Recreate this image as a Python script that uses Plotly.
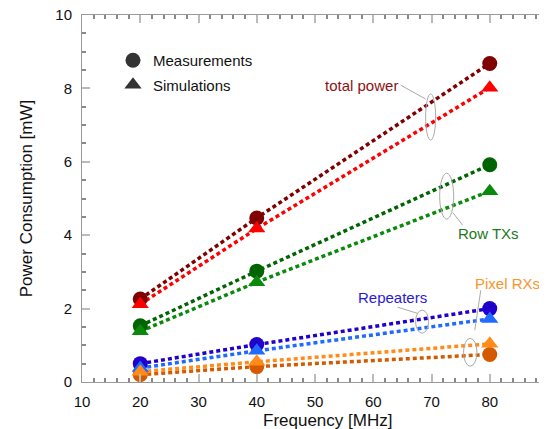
import plotly.graph_objects as go

freq = [20, 40, 80]

total_meas = [2.26, 4.47, 8.68]
total_sim = [2.12, 4.18, 8.02]
row_meas = [1.53, 3.02, 5.92]
row_sim = [1.38, 2.72, 5.20]
rep_meas = [0.50, 1.02, 2.00]
rep_sim = [0.38, 0.85, 1.72]
pix_meas = [0.20, 0.42, 0.75]
pix_sim = [0.28, 0.55, 1.04]

x_ticks = [10, 20, 30, 40, 50, 60, 70, 80, 90]
y_ticks = [0, 2, 4, 6, 8, 10]

FONT = "Liberation Sans, Arial, sans-serif"

meas_series = [
    (total_meas, "#800000"),
    (row_meas, "#006400"),
    (rep_meas, "#2200cc"),
    (pix_meas, "#d45a00"),
]
sim_series = [
    (total_sim, "#ff0000"),
    (row_sim, "#0a8a0a"),
    (rep_sim, "#1f6bff"),
    (pix_sim, "#ff8c1a"),
]

fig = go.Figure()

for vals, col in meas_series + sim_series:
    fig.add_trace(go.Scatter(x=freq, y=vals, mode="lines",
                             line=dict(color=col, width=3.5, dash="4px,3px"),
                             showlegend=False, hoverinfo="skip"))
for vals, col in meas_series:
    fig.add_trace(go.Scatter(x=freq, y=vals, mode="markers",
                             marker=dict(symbol="circle", size=15, color=col),
                             showlegend=False))
for vals, col in sim_series:
    fig.add_trace(go.Scatter(x=freq, y=vals, mode="markers",
                             marker=dict(symbol="triangle-up", size=15, color=col),
                             showlegend=False))

fig.add_trace(go.Scatter(x=[None], y=[None], mode="markers", name="Measurements",
                         legendgroup="a",
                         marker=dict(symbol="circle", size=15, color="#333333")))
fig.add_trace(go.Scatter(x=[None], y=[None], mode="markers", name="Simulations",
                         legendgroup="b",
                         marker=dict(symbol="triangle-up", size=15, color="#333333")))

labels = [
    ("total power", 64.6, 8.09, "#8b1111", "right"),
    ("Row TXs", 79.7, 4.06, "#1b7a1b", "center"),
    ("Repeaters", 63.3, 2.31, "#2a1ad8", "center"),
    ("Pixel RXs", 83.1, 2.69, "#f7962a", "center"),
]
annotations = []
for txt, xx, yy, col, xa in labels:
    annotations.append(dict(x=xx, y=yy, xref="x", yref="y", text=txt,
                            showarrow=False, xanchor=xa,
                            font=dict(family=FONT, size=15, color=col)))

annotations.append(dict(x=0.526, y=-0.074, xref="paper", yref="paper",
                        text="Frequency [MHz]", showarrow=False,
                        yanchor="top",
                        font=dict(family=FONT, size=17, color="#111111")))

ellipses = [
    (68.99, 70.71, 6.59, 7.85),
    (71.40, 73.81, 4.44, 5.69),
    (67.27, 69.50, 1.33, 1.96),
    (75.50, 77.80, 0.43, 1.19),
]
leaders = [
    (64.7, 8.09, 68.99, 7.71),
    (73.64, 4.62, 75.36, 4.27),
    (64.17, 2.04, 67.61, 1.87),
    (78.46, 2.50, 77.43, 1.41),
]
shapes = []
for x0, x1, y0, y1 in ellipses:
    shapes.append(dict(type="circle", xref="x", yref="y", x0=x0, x1=x1, y0=y0, y1=y1,
                       line=dict(color="#aaaaaa", width=1)))
for x0, y0, x1, y1 in leaders:
    shapes.append(dict(type="line", xref="x", yref="y", x0=x0, y0=y0, x1=x1, y1=y1,
                       line=dict(color="#aaaaaa", width=1)))

axis_common = dict(
    showgrid=False, zeroline=False, showline=True, linecolor="#999999", linewidth=1,
    mirror="allticks", ticks="inside", ticklen=8, tickcolor="#bbbbbb", tickwidth=1.5,
    ticklabeloverflow="allow", automargin=False,
    tickfont=dict(family=FONT, size=15, color="#111111"),
)

fig.update_layout(
    width=547, height=421,
    margin=dict(l=74, r=7, t=7, b=47),
    paper_bgcolor="white", plot_bgcolor="white",
    font=dict(family=FONT, color="#111111"),
    xaxis=dict(range=[10, 90], tickvals=x_ticks, ticklabelstandoff=6,
               minor=dict(dtick=2, ticks="inside", ticklen=4, tickcolor="#888888"),
               **axis_common),
    yaxis=dict(range=[0, 10], tickvals=y_ticks, ticklabelstandoff=6,
               title=dict(text="Power Consumption [mW]", standoff=18,
                          font=dict(family=FONT, size=17, color="#111111")),
               minor=dict(dtick=0.5, ticks="inside", ticklen=4, tickcolor="#888888"),
               **axis_common),
    legend=dict(x=0.0665, y=0.921, xanchor="left", yanchor="top",
                bgcolor="rgba(0,0,0,0)", tracegroupgap=2, traceorder="grouped",
                font=dict(family=FONT, size=15, color="#111111")),
    annotations=annotations,
    shapes=shapes,
)

fig.write_html("out.html")
